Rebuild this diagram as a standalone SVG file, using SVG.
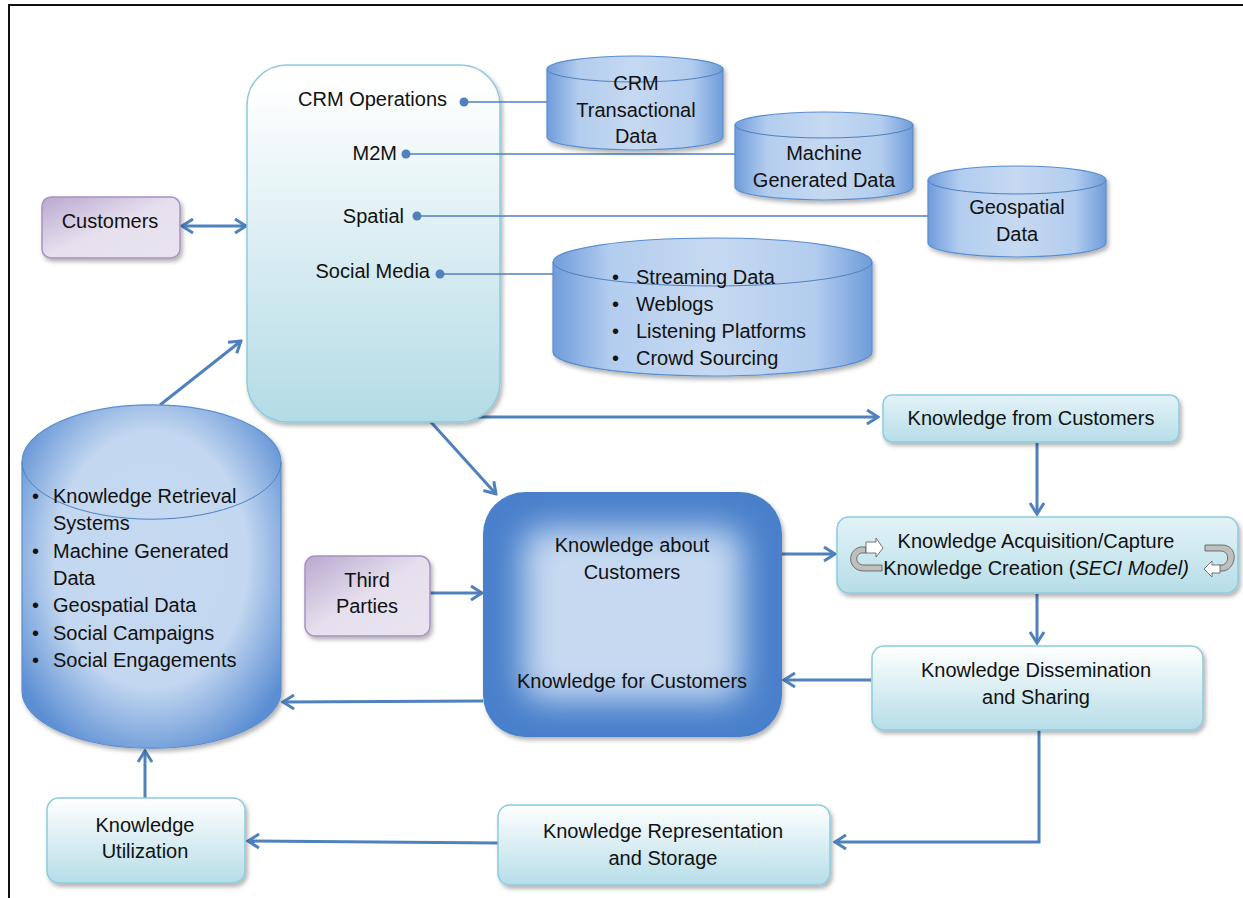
<svg xmlns="http://www.w3.org/2000/svg" width="1243" height="898" viewBox="0 0 1243 898">
<style>
  text { font-family: "Liberation Sans", Arial, sans-serif; font-size: 20px; fill: #111; }
  .c { text-anchor: middle; }
  .e { text-anchor: end; }
  .conn { stroke: #4f81bd; stroke-width: 3; fill: none; }
  .thin { stroke: #4f81bd; stroke-width: 1.6; fill: none; }
  .dot { fill: #4f81bd; }
  .teal { fill: url(#gTeal); stroke: #8ccbdb; stroke-width: 1.5; filter: url(#sh); }
  .purple { fill: url(#gPurple); stroke: #a793c0; stroke-width: 1.5; filter: url(#sh); }
  .cyl { fill: url(#gCyl); stroke: #5a8ed0; stroke-width: 1.2; filter: url(#sh); }
  .rim { fill: none; stroke: #4f81bd; stroke-width: 1; }
</style>
<defs>
  <filter id="sh" x="-10%" y="-10%" width="125%" height="130%">
    <feDropShadow dx="2" dy="3" stdDeviation="2" flood-color="#000" flood-opacity="0.3"/>
  </filter>
  <filter id="blur" x="-50%" y="-50%" width="200%" height="200%">
    <feGaussianBlur stdDeviation="16"/>
  </filter>
  <linearGradient id="gTeal" x1="0" y1="0" x2="0" y2="1">
    <stop offset="0" stop-color="#ffffff"/>
    <stop offset="1" stop-color="#b6dde8"/>
  </linearGradient>
  <linearGradient id="gTeal2" x1="0" y1="0" x2="0" y2="1">
    <stop offset="0" stop-color="#e4f3f7"/>
    <stop offset="1" stop-color="#b6dde8"/>
  </linearGradient>
  <linearGradient id="gCRM" x1="0" y1="0" x2="0" y2="1">
    <stop offset="0.05" stop-color="#ffffff"/>
    <stop offset="1" stop-color="#b3dbe6"/>
  </linearGradient>
  <linearGradient id="gPurple" x1="0" y1="0" x2="1" y2="1">
    <stop offset="0" stop-color="#b9a8cf"/>
    <stop offset="0.5" stop-color="#e6e0ee"/>
    <stop offset="1" stop-color="#e9e4f0"/>
  </linearGradient>
  <linearGradient id="gCyl" x1="0" y1="0" x2="1" y2="0">
    <stop offset="0" stop-color="#6f9cda"/>
    <stop offset="0.18" stop-color="#b3cdef"/>
    <stop offset="0.5" stop-color="#c6d9f1"/>
    <stop offset="0.82" stop-color="#b3cdef"/>
    <stop offset="1" stop-color="#6f9cda"/>
  </linearGradient>
  <radialGradient id="gBig" cx="0.5" cy="0.45" r="0.62">
    <stop offset="0" stop-color="#c6d9f1"/>
    <stop offset="0.6" stop-color="#c3d7f0"/>
    <stop offset="1" stop-color="#5b8ed3"/>
  </radialGradient>
  <clipPath id="clipKB">
    <rect x="483" y="492" width="299" height="245" rx="42"/>
  </clipPath>
  <marker id="arr" markerUnits="userSpaceOnUse" viewBox="0 0 16 18" markerWidth="16" markerHeight="18" refX="14" refY="9" orient="auto-start-reverse">
    <path d="M3,2 L14,9 L3,16" fill="none" stroke="#4f81bd" stroke-width="3"/>
  </marker>
</defs>

<!-- frame -->
<path d="M9,898 V5 H1243" fill="none" stroke="#111" stroke-width="2"/>

<!-- connectors -->
<g id="connectors">
  <line class="conn" x1="182" y1="226" x2="246" y2="226" marker-start="url(#arr)" marker-end="url(#arr)"/>
  <line class="conn" x1="160" y1="405" x2="241" y2="341" marker-end="url(#arr)"/>
  <line class="conn" x1="430" y1="421" x2="496" y2="494" marker-end="url(#arr)"/>
  <line class="conn" x1="470" y1="417" x2="878" y2="417" marker-end="url(#arr)"/>
  <line class="conn" x1="1037" y1="443" x2="1037" y2="514" marker-end="url(#arr)"/>
  <line class="conn" x1="767" y1="554" x2="835" y2="554" marker-end="url(#arr)"/>
  <line class="conn" x1="1037" y1="594" x2="1037" y2="643" marker-end="url(#arr)"/>
  <line class="conn" x1="871" y1="680" x2="784" y2="680" marker-end="url(#arr)"/>
  <line class="conn" x1="430" y1="593" x2="482" y2="593" marker-end="url(#arr)"/>
  <line class="conn" x1="483" y1="701" x2="283" y2="702" marker-end="url(#arr)"/>
  <polyline class="conn" points="1039,730 1039,842 835,842" marker-end="url(#arr)"/>
  <line class="conn" x1="498" y1="843" x2="248" y2="841" marker-end="url(#arr)"/>
  <line class="conn" x1="145" y1="798" x2="145" y2="751" marker-end="url(#arr)"/>
</g>

<!-- CRM box -->
<g id="crm">
  <rect x="247" y="65" width="253" height="357" rx="40" fill="url(#gCRM)" stroke="#8ccbdb" stroke-width="1.5" filter="url(#sh)"/>
  <text class="e" x="447" y="106">CRM Operations</text>
  <text class="e" x="397" y="160">M2M</text>
  <text class="e" x="404" y="223">Spatial</text>
  <text class="e" x="430" y="278">Social Media</text>
</g>

<!-- source links -->
<g id="source-links">
  <line class="thin" x1="464" y1="102" x2="548" y2="102"/>
  <circle class="dot" cx="464" cy="102" r="4.5"/>
  <line class="thin" x1="406" y1="154" x2="736" y2="154"/>
  <circle class="dot" cx="406" cy="154" r="4.5"/>
  <line class="thin" x1="417" y1="216" x2="929" y2="216"/>
  <circle class="dot" cx="417" cy="216" r="4.5"/>
  <line class="thin" x1="440" y1="274" x2="554" y2="274"/>
  <circle class="dot" cx="440" cy="274" r="4.5"/>
</g>

<!-- cylinders -->
<g id="cyl-crm">
  <path class="cyl" d="M547,69 A88,13 0 0 1 723,69 V137 A88,13 0 0 1 547,137 Z"/>
  <path class="rim" d="M547,69 A88,13 0 0 0 723,69"/>
  <text class="c" x="636" y="90">CRM</text>
  <text class="c" x="636" y="117">Transactional</text>
  <text class="c" x="636" y="143">Data</text>
</g>
<g id="cyl-machine">
  <path class="cyl" d="M735,125 A89,13 0 0 1 913,125 V187 A89,13 0 0 1 735,187 Z"/>
  <path class="rim" d="M735,125 A89,13 0 0 0 913,125"/>
  <text class="c" x="824" y="160">Machine</text>
  <text class="c" x="824" y="187">Generated Data</text>
</g>
<g id="cyl-geo">
  <path class="cyl" d="M928,180 A89,14 0 0 1 1106,180 V243 A89,14 0 0 1 928,243 Z"/>
  <path class="rim" d="M928,180 A89,14 0 0 0 1106,180"/>
  <text class="c" x="1017" y="214">Geospatial</text>
  <text class="c" x="1017" y="241">Data</text>
</g>
<g id="cyl-social">
  <path class="cyl" d="M553,262 A159.5,24 0 0 1 872,262 V352 A159.5,24 0 0 1 553,352 Z"/>
  <path class="rim" d="M553,262 A159.5,24 0 0 0 872,262"/>
  <text x="612" y="284">•</text><text x="636" y="284">Streaming Data</text>
  <text x="612" y="311">•</text><text x="636" y="311">Weblogs</text>
  <text x="612" y="338">•</text><text x="636" y="338">Listening Platforms</text>
  <text x="612" y="365">•</text><text x="636" y="365">Crowd Sourcing</text>
</g>

<!-- left knowledge repository cylinder -->
<g id="cyl-repo">
  <path d="M22,462 A129,57 0 0 1 281,462 V691 A129,57 0 0 1 22,691 Z" fill="url(#gBig)" stroke="#5a8ed0" stroke-width="1.2" filter="url(#sh)"/>
  <path class="rim" d="M22,462 A129,57 0 0 0 281,462"/>
  <text x="32" y="503">•</text><text x="53" y="503">Knowledge Retrieval</text>
  <text x="53" y="530">Systems</text>
  <text x="32" y="558">•</text><text x="53" y="558">Machine Generated</text>
  <text x="53" y="585">Data</text>
  <text x="32" y="612">•</text><text x="53" y="612">Geospatial Data</text>
  <text x="32" y="640">•</text><text x="53" y="640">Social Campaigns</text>
  <text x="32" y="667">•</text><text x="53" y="667">Social Engagements</text>
</g>

<!-- purple boxes -->
<g id="customers">
  <rect class="purple" x="42" y="197" width="138" height="61" rx="9"/>
  <text class="c" x="110" y="228">Customers</text>
</g>
<g id="third-parties">
  <rect class="purple" x="305" y="556" width="125" height="80" rx="10"/>
  <text class="c" x="367" y="587">Third</text>
  <text class="c" x="367" y="613">Parties</text>
</g>

<!-- central knowledge box -->
<g id="knowledge-core">
  <rect x="483" y="492" width="299" height="245" rx="42" fill="#4a80cb" filter="url(#sh)"/>
  <g clip-path="url(#clipKB)">
    <rect x="523" y="528" width="219" height="172" rx="20" fill="#c6d9f1" filter="url(#blur)"/>
  </g>
  <text class="c" x="632" y="552">Knowledge about</text>
  <text class="c" x="632" y="579">Customers</text>
  <text class="c" x="632" y="688">Knowledge for Customers</text>
</g>

<!-- process boxes -->
<g id="k-from">
  <rect x="883" y="395" width="296" height="47" rx="9" fill="url(#gTeal2)" stroke="#8ccbdb" stroke-width="1.5" filter="url(#sh)"/>
  <text class="c" x="1031" y="425">Knowledge from Customers</text>
</g>
<g id="k-acq">
  <rect x="837" y="517" width="401" height="76" rx="12" fill="url(#gTeal2)" stroke="#8ccbdb" stroke-width="1.5" filter="url(#sh)"/>
  <text class="c" x="1036" y="548">Knowledge Acquisition/Capture</text>
  <text class="c" x="1036" y="575">Knowledge Creation (<tspan font-style="italic">SECI Model)</tspan></text>
  <!-- cycle icons -->
  <path d="M882,571 H864 C848,571 846,551 860,547 L866,547 L866,553 L861,553 C854,556 856,565 864,565 H882 Z" fill="#bfbfbf" stroke="#555" stroke-width="0.8"/>
  <path d="M866,542 L876,542 L876,538 L883,548 L876,557 L876,553 L866,553 Z" fill="#fff" stroke="#555" stroke-width="0.8"/>
  <path d="M1205,545 H1222 C1238,545 1238,567 1224,571 L1219,571 L1219,565 L1223,565 C1230,562 1229,551 1221,551 H1205 Z" fill="#bfbfbf" stroke="#555" stroke-width="0.8"/>
  <path d="M1220,565 L1212,565 L1212,561 L1204,569 L1212,577 L1212,573 L1220,573 Z" fill="#fff" stroke="#555" stroke-width="0.8"/>
</g>
<g id="k-dissem">
  <rect class="teal" x="872" y="646" width="331" height="84" rx="12"/>
  <text class="c" x="1036" y="677">Knowledge Dissemination</text>
  <text class="c" x="1036" y="704">and Sharing</text>
</g>
<g id="k-repr">
  <rect class="teal" x="498" y="805" width="332" height="80" rx="12"/>
  <text class="c" x="663" y="838">Knowledge Representation</text>
  <text class="c" x="663" y="865">and Storage</text>
</g>
<g id="k-util">
  <rect class="teal" x="47" y="798" width="198" height="85" rx="12"/>
  <text class="c" x="145" y="832">Knowledge</text>
  <text class="c" x="145" y="858">Utilization</text>
</g>
</svg>
